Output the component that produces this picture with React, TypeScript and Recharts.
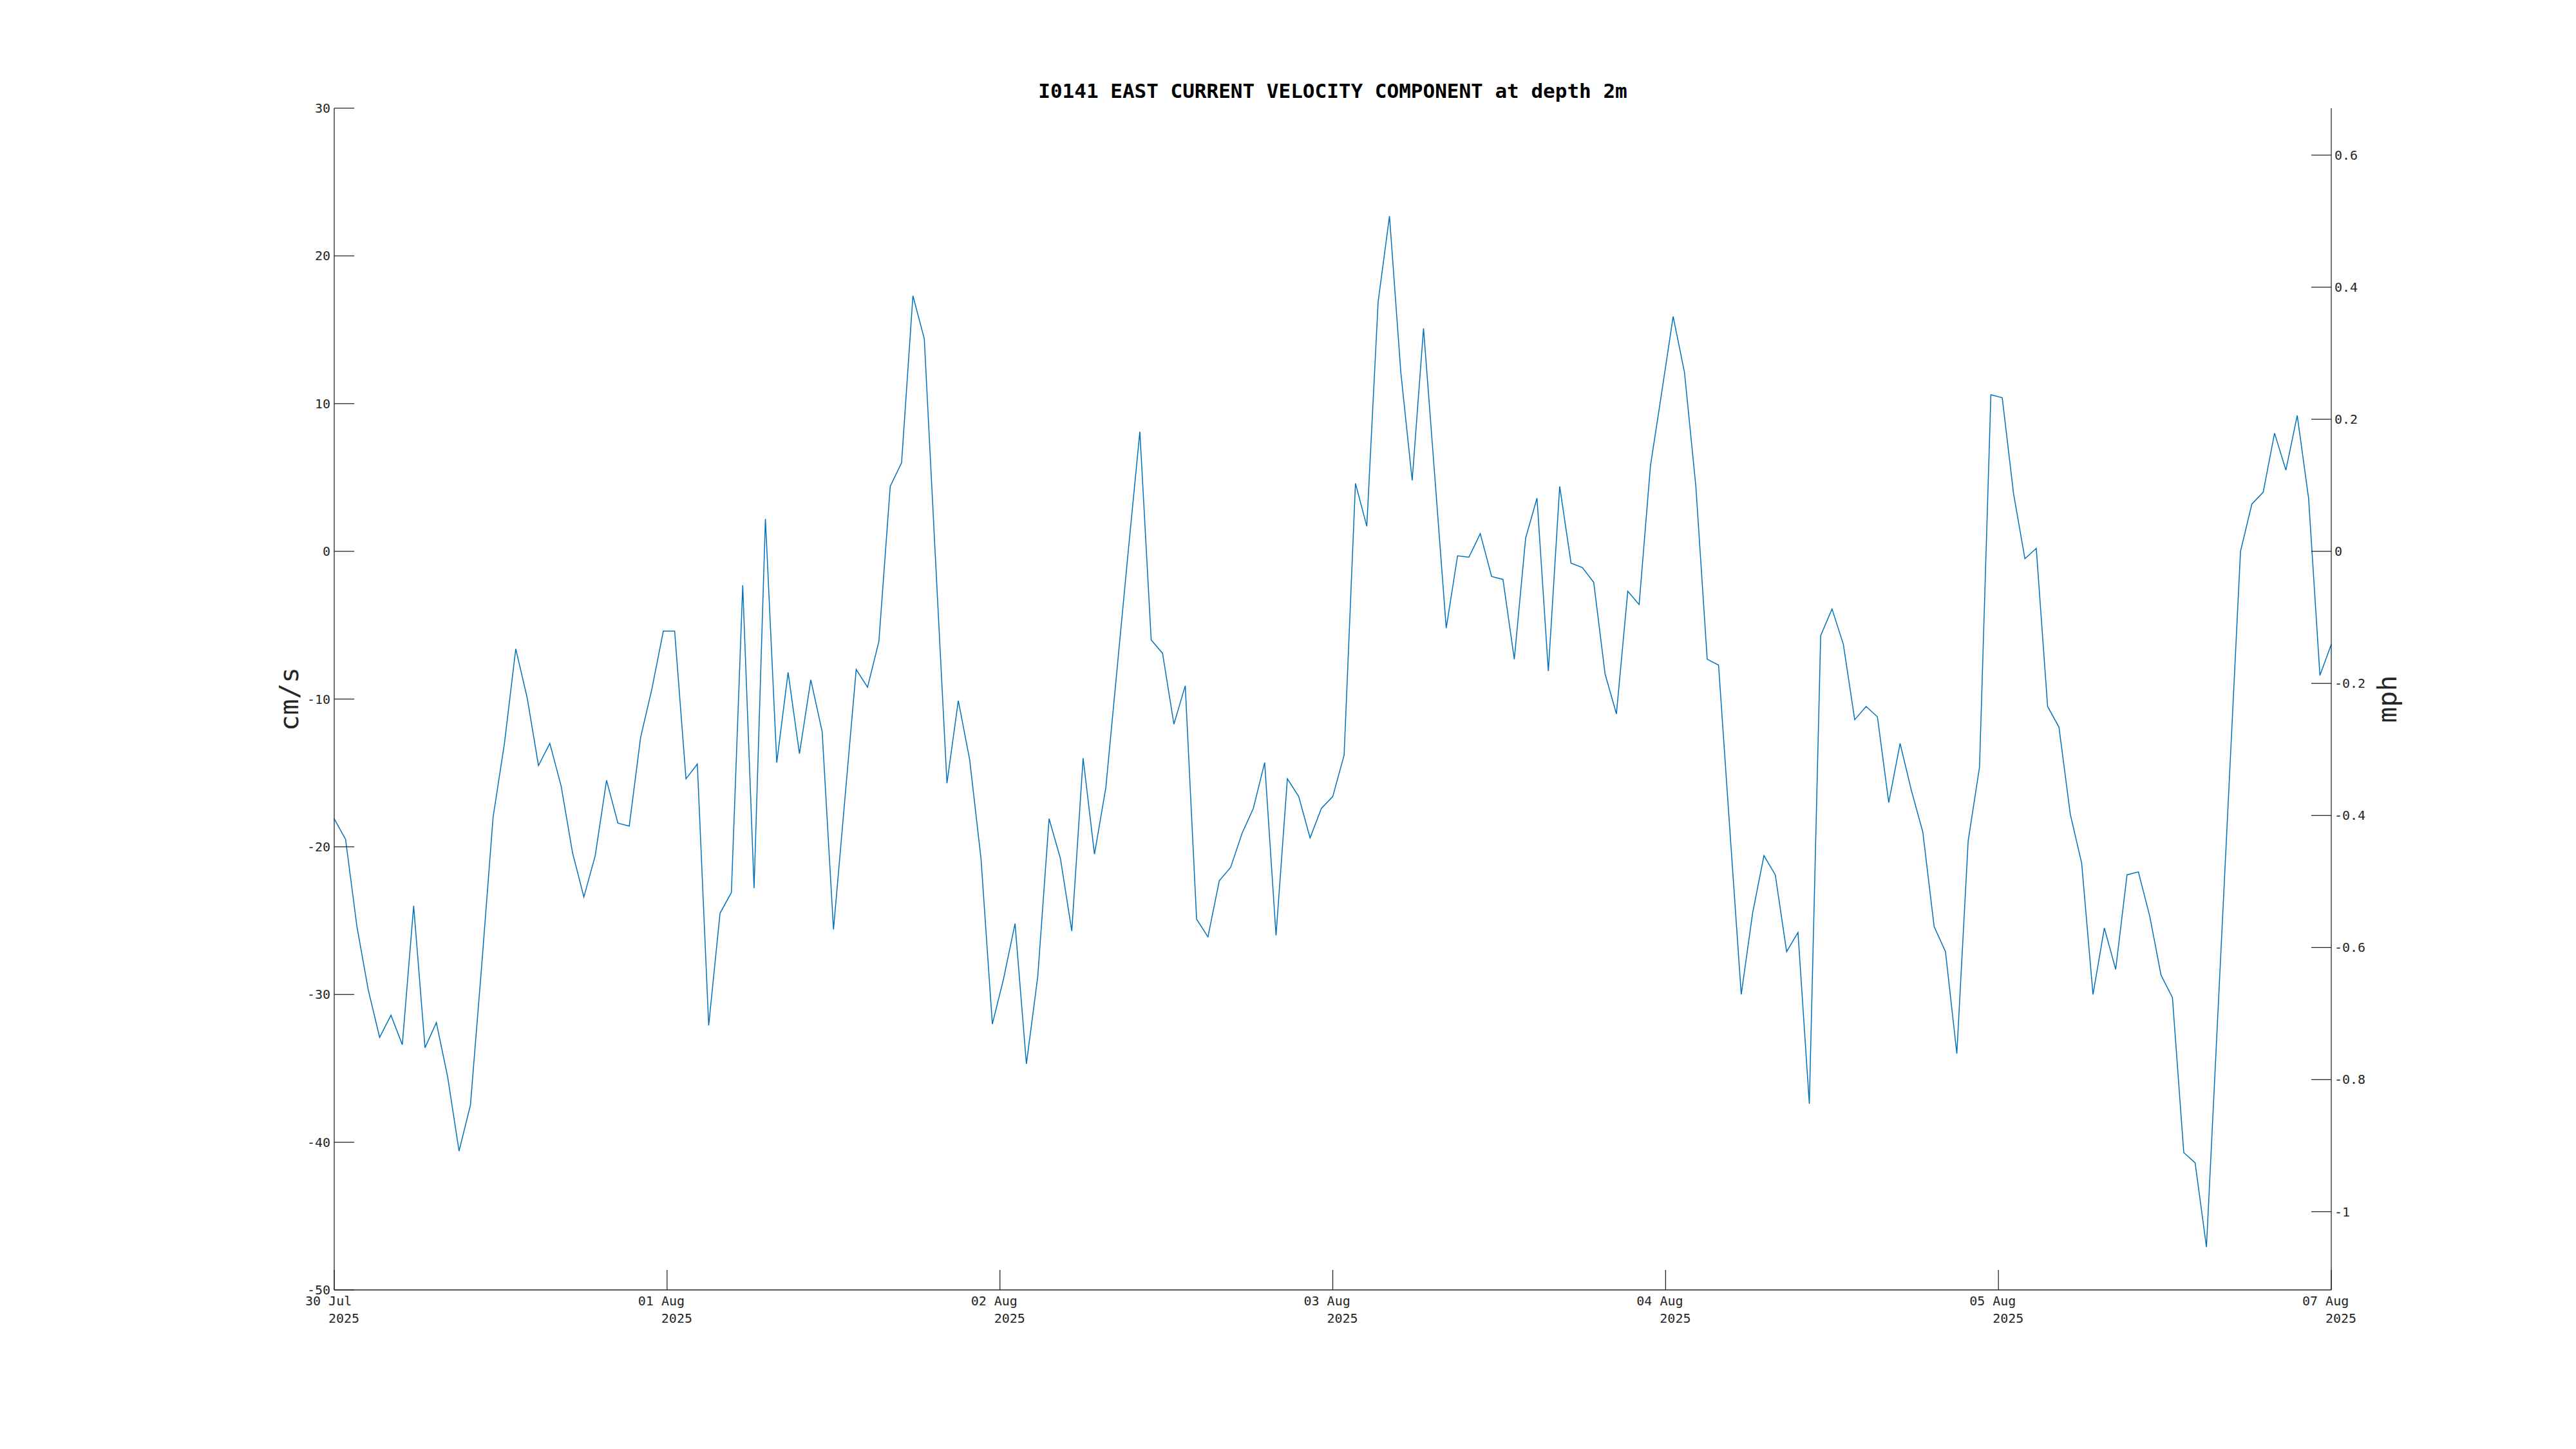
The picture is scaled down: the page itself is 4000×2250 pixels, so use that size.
import { LineChart, Line, XAxis, YAxis } from "recharts";

// east velocity, cm/s, hourly samples
const velocity = [
  -18.1, -19.5, -25.4, -29.7, -32.9, -31.4, -33.4, -24.0, -33.6, -31.9,
  -35.6, -40.6, -37.5, -28.0, -18.0, -13.0, -6.6, -9.9, -14.5, -13.0,
  -15.9, -20.4, -23.4, -20.6, -15.5, -18.4, -18.6, -12.6, -9.3, -5.4,
  -5.4, -15.4, -14.4, -32.1, -24.5, -23.1, -2.3, -22.8, 2.2, -14.3,
  -8.2, -13.7, -8.7, -12.2, -25.6, -16.8, -8.0, -9.2, -6.1, 4.4,
  6.0, 17.3, 14.4, -0.7, -15.7, -10.1, -14.1, -20.8, -32.0, -28.9,
  -25.2, -34.7, -28.8, -18.1, -20.8, -25.7, -14.0, -20.5, -16.0, -7.9,
  0.2, 8.1, -6.0, -6.9, -11.7, -9.1, -24.9, -26.1, -22.3, -21.4,
  -19.1, -17.4, -14.3, -26.0, -15.4, -16.6, -19.4, -17.4, -16.6, -13.8,
  4.6, 1.7, 16.9, 22.7, 12.1, 4.8, 15.1, 5.0, -5.2, -0.3,
  -0.4, 1.2, -1.7, -1.9, -7.3, 0.9, 3.6, -8.1, 4.4, -0.8,
  -1.1, -2.1, -8.3, -11.0, -2.7, -3.6, 5.8, 10.8, 15.9, 12.1,
  4.4, -7.3, -7.7, -18.9, -30.0, -24.5, -20.6, -21.9, -27.1, -25.8,
  -37.4, -5.7, -3.9, -6.3, -11.4, -10.5, -11.2, -17.0, -13.0, -16.2,
  -19.0, -25.4, -27.1, -34.0, -19.6, -14.6, 10.6, 10.4, 3.9, -0.5,
  0.2, -10.5, -11.9, -17.8, -21.1, -30.0, -25.5, -28.3, -21.9, -21.7,
  -24.7, -28.7, -30.2, -40.7, -41.4, -47.1, -31.4, -15.7, 0.0, 3.2,
  4.0, 8.0, 5.5, 9.2, 3.6, -8.4, -6.3,
];

const dateLabels = ["30 Jul", "01 Aug", "02 Aug", "03 Aug", "04 Aug", "05 Aug", "07 Aug"];
const yearLabel = "2025";
const cmTicks = [-50, -40, -30, -20, -10, 0, 10, 20, 30];
const mphTicks = [-1, -0.8, -0.6, -0.4, -0.2, 0, 0.2, 0.4, 0.6];

const CM_TO_MPH = 0.0223694;
const CM_MIN = -50;
const CM_MAX = 30;

const W = 4000;
const H = 2250;
const PLOT_LEFT = 519;
const PLOT_RIGHT = 3620;
const PLOT_TOP = 168;
const PLOT_BOTTOM = 2003;
const AXIS_W = 100;
const X_AXIS_H = 80;
const TICK_LEN = 31;
const FONT = '"DejaVu Sans Mono", monospace';
const INK = "#262626";

const data = velocity.map((v, i) => ({ i, cm: v, mph: v * CM_TO_MPH }));
const last = velocity.length - 1;
// matlab put 7 evenly spaced ticks across the data span
const xTicks = dateLabels.map((_, k) => (k * last) / (dateLabels.length - 1));

function LeftTick(props: any) {
  const { x, y, payload } = props;
  return (
    <g>
      <line x1={x} x2={x + TICK_LEN} y1={y} y2={y} stroke={INK} strokeWidth={1.3} />
      <text x={x - 6} y={y + 7} textAnchor="end" fontFamily={FONT} fontSize={20} fill={INK}>
        {payload.value}
      </text>
    </g>
  );
}

function RightTick(props: any) {
  const { x, y, payload } = props;
  return (
    <g>
      <line x1={x - TICK_LEN} x2={x} y1={y} y2={y} stroke={INK} strokeWidth={1.3} />
      <text x={x + 5} y={y + 7} textAnchor="start" fontFamily={FONT} fontSize={20} fill={INK}>
        {String(payload.value)}
      </text>
    </g>
  );
}

function BottomTick(props: any) {
  const { x, y, index } = props;
  return (
    <g>
      <line x1={x} x2={x} y1={y} y2={y - TICK_LEN} stroke={INK} strokeWidth={1.3} />
      <text x={x - 45} y={y + 24} textAnchor="start" fontFamily={FONT} fontSize={20} fill={INK}>
        {dateLabels[index]}
      </text>
      <text x={x - 9} y={y + 51} textAnchor="start" fontFamily={FONT} fontSize={20} fill={INK}>
        {yearLabel}
      </text>
    </g>
  );
}

export default function App() {
  const midY = (PLOT_TOP + PLOT_BOTTOM) / 2;
  return (
    <div style={{ position: "absolute", left: 0, top: 0, width: W, height: H, background: "#fff" }}>
      <LineChart
        width={W}
        height={H}
        data={data}
        margin={{
          top: PLOT_TOP,
          left: PLOT_LEFT - AXIS_W,
          right: W - PLOT_RIGHT - AXIS_W,
          bottom: H - PLOT_BOTTOM - X_AXIS_H,
        }}
      >
        <XAxis
          dataKey="i"
          type="number"
          domain={[0, last]}
          ticks={xTicks}
          interval={0}
          height={X_AXIS_H}
          tickSize={0}
          tickMargin={0}
          tick={<BottomTick />}
          axisLine={{ stroke: INK, strokeWidth: 1.3 }}
        />
        <YAxis
          yAxisId="left"
          orientation="left"
          width={AXIS_W}
          domain={[CM_MIN, CM_MAX]}
          ticks={cmTicks}
          interval={0}
          tickSize={0}
          tickMargin={0}
          tick={<LeftTick />}
          axisLine={{ stroke: INK, strokeWidth: 1.3 }}
        />
        <YAxis
          yAxisId="right"
          orientation="right"
          width={AXIS_W}
          domain={[CM_MIN * CM_TO_MPH, CM_MAX * CM_TO_MPH]}
          allowDataOverflow
          ticks={mphTicks}
          interval={0}
          tickSize={0}
          tickMargin={0}
          tick={<RightTick />}
          axisLine={{ stroke: INK, strokeWidth: 1.3 }}
        />
        <Line
          yAxisId="right"
          dataKey="mph"
          type="linear"
          stroke="transparent"
          dot={false}
          activeDot={false}
          isAnimationActive={false}
        />
        <Line
          yAxisId="left"
          dataKey="cm"
          type="linear"
          stroke="#0072BD"
          strokeWidth={1.5}
          dot={false}
          activeDot={false}
          isAnimationActive={false}
        />
      </LineChart>
      <svg
        width={W}
        height={H}
        style={{ position: "absolute", left: 0, top: 0, pointerEvents: "none" }}
      >
        <text
          x={(PLOT_LEFT + PLOT_RIGHT) / 2}
          y={152}
          textAnchor="middle"
          fontFamily={FONT}
          fontWeight="bold"
          fontSize={31}
          fill="#000"
        >
          I0141 EAST CURRENT VELOCITY COMPONENT at depth 2m
        </text>
        <text
          x={449}
          y={midY}
          transform={`rotate(-90 449 ${midY})`}
          textAnchor="middle"
          dominantBaseline="central"
          fontFamily={FONT}
          fontSize={41}
          fill={INK}
        >
          cm/s
        </text>
        <text
          x={3707}
          y={midY}
          transform={`rotate(-90 3707 ${midY})`}
          textAnchor="middle"
          dominantBaseline="central"
          fontFamily={FONT}
          fontSize={41}
          fill={INK}
        >
          mph
        </text>
      </svg>
    </div>
  );
}
